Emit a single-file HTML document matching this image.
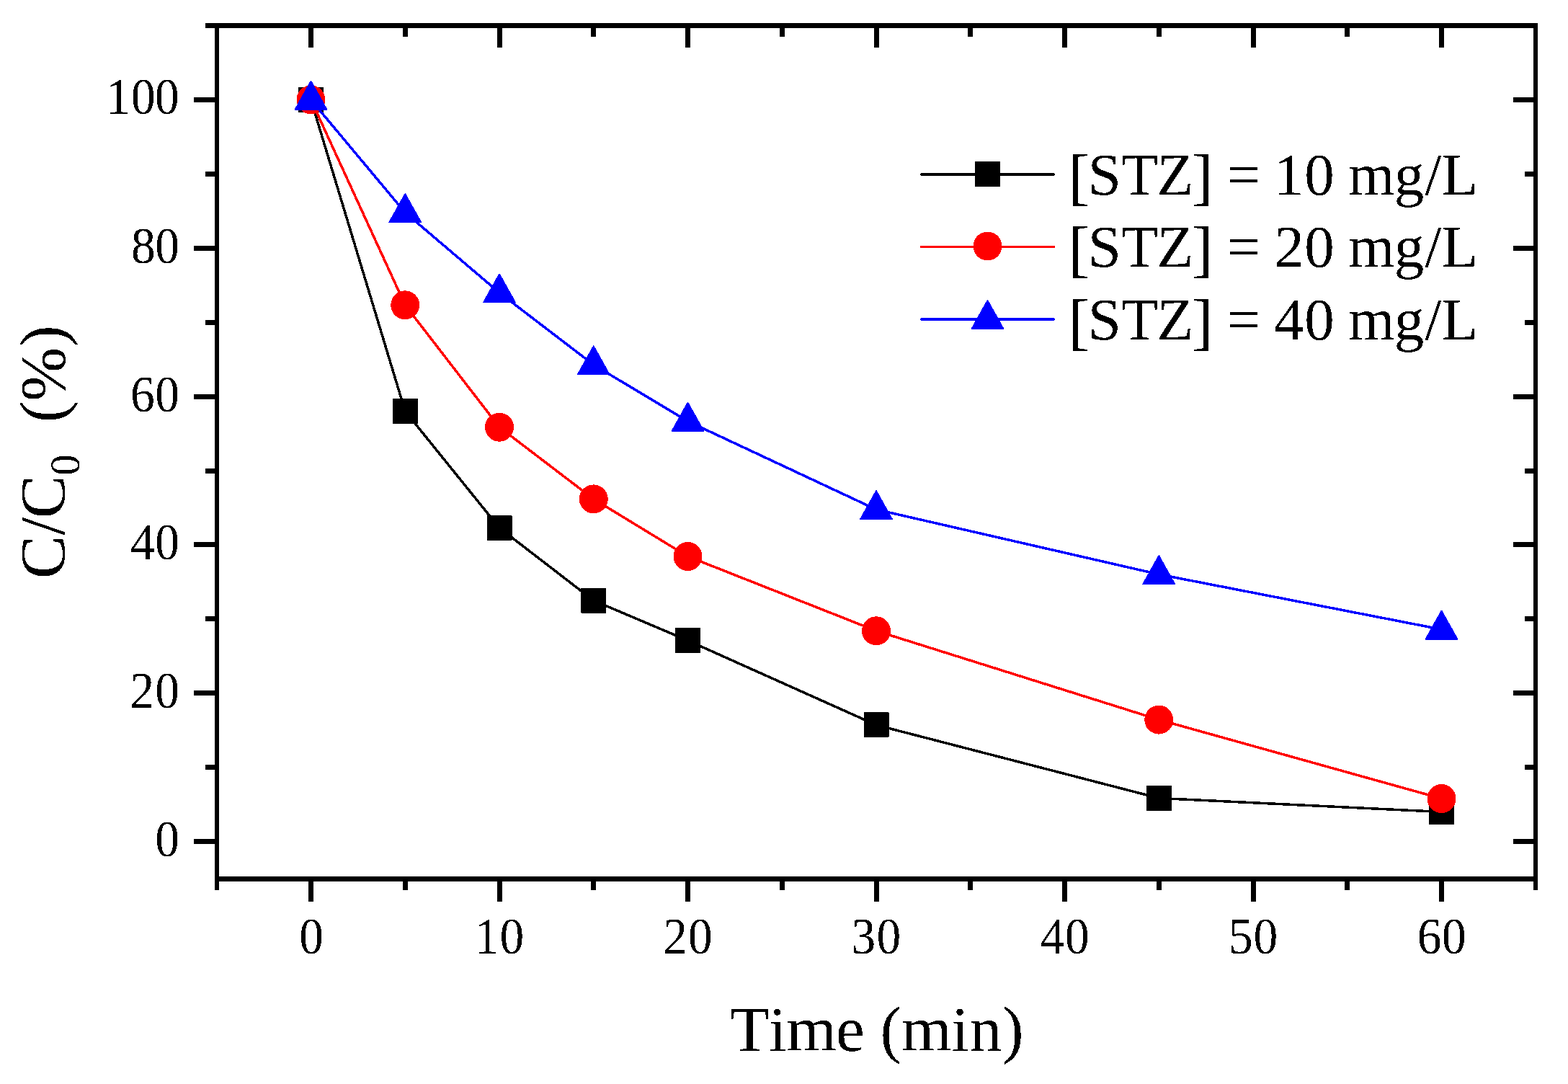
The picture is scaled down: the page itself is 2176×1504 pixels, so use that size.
<!DOCTYPE html>
<html><head><meta charset="utf-8"><title>C/C0 (%) vs Time (min)</title>
<style>html,body{margin:0;padding:0;background:#fff;overflow:hidden;}svg{display:block;}</style>
</head><body>
<svg width="2176" height="1504" viewBox="0 0 2176 1504"><defs><filter id="crisp" x="-5%" y="-5%" width="110%" height="110%" color-interpolation-filters="sRGB"><feComponentTransfer><feFuncA type="discrete" tableValues="0 1"/></feComponentTransfer></filter></defs><rect width="2176" height="1504" fill="#fff"/>
<g fill="#000" shape-rendering="crispEdges">
<rect x="298" y="32" width="6" height="1203"/>
<rect x="2128" y="32" width="6" height="1203"/>
<rect x="285" y="32" width="1849" height="7"/>
<rect x="298" y="1216" width="1836" height="7"/>
<rect x="428" y="1223" width="7" height="28"/>
<rect x="428" y="39" width="7" height="27"/>
<rect x="689.5" y="1223" width="7" height="28"/>
<rect x="689.5" y="39" width="7" height="27"/>
<rect x="951" y="1223" width="7" height="28"/>
<rect x="951" y="39" width="7" height="27"/>
<rect x="1212.5" y="1223" width="7" height="28"/>
<rect x="1212.5" y="39" width="7" height="27"/>
<rect x="1474" y="1223" width="7" height="28"/>
<rect x="1474" y="39" width="7" height="27"/>
<rect x="1735.5" y="1223" width="7" height="28"/>
<rect x="1735.5" y="39" width="7" height="27"/>
<rect x="1997" y="1223" width="7" height="28"/>
<rect x="1997" y="39" width="7" height="27"/>
<rect x="558.75" y="1223" width="7" height="12"/>
<rect x="558.75" y="39" width="7" height="12"/>
<rect x="820.25" y="1223" width="7" height="12"/>
<rect x="820.25" y="39" width="7" height="12"/>
<rect x="1081.75" y="1223" width="7" height="12"/>
<rect x="1081.75" y="39" width="7" height="12"/>
<rect x="1343.25" y="1223" width="7" height="12"/>
<rect x="1343.25" y="39" width="7" height="12"/>
<rect x="1604.75" y="1223" width="7" height="12"/>
<rect x="1604.75" y="39" width="7" height="12"/>
<rect x="1866.25" y="1223" width="7" height="12"/>
<rect x="1866.25" y="39" width="7" height="12"/>
<rect x="269" y="1164" width="29" height="7"/>
<rect x="2100" y="1164" width="28" height="7"/>
<rect x="269" y="958.2" width="29" height="7"/>
<rect x="2100" y="958.2" width="28" height="7"/>
<rect x="269" y="752.4" width="29" height="7"/>
<rect x="2100" y="752.4" width="28" height="7"/>
<rect x="269" y="546.6" width="29" height="7"/>
<rect x="2100" y="546.6" width="28" height="7"/>
<rect x="269" y="340.8" width="29" height="7"/>
<rect x="2100" y="340.8" width="28" height="7"/>
<rect x="269" y="135" width="29" height="7"/>
<rect x="2100" y="135" width="28" height="7"/>
<rect x="285" y="1061.1" width="13" height="7"/>
<rect x="2116" y="1061.1" width="12" height="7"/>
<rect x="285" y="855.3" width="13" height="7"/>
<rect x="2116" y="855.3" width="12" height="7"/>
<rect x="285" y="649.5" width="13" height="7"/>
<rect x="2116" y="649.5" width="12" height="7"/>
<rect x="285" y="443.7" width="13" height="7"/>
<rect x="2116" y="443.7" width="12" height="7"/>
<rect x="285" y="237.9" width="13" height="7"/>
<rect x="2116" y="237.9" width="12" height="7"/>
</g>
<g font-family="Liberation Serif, 'Times New Roman', serif" font-size="71" fill="#000" filter="url(#crisp)"><g transform="scale(0.95 1)">
<text x="437.09" y="1322.6">0</text>
<text x="693.34 729.99" y="1322.6">10</text>
<text x="968.81 1005.25" y="1322.6">20</text>
<text x="1243.62 1280.51" y="1322.6">30</text>
<text x="1519.85 1555.78" y="1322.6">40</text>
<text x="1794.68 1831.04" y="1322.6">50</text>
<text x="2070.31 2106.3" y="1322.6">60</text>
<text x="226.46" y="1188.1">0</text>
<text x="190.02 226.46" y="982.3">20</text>
<text x="190.53 226.46" y="776.5">40</text>
<text x="190.47 226.46" y="570.7">60</text>
<text x="191.67 226.46" y="364.9">80</text>
<text x="154.95 191.62 226.36" y="158.4">100</text>
</g></g>
<g shape-rendering="crispEdges">
<polyline points="431.5,138.4 562.25,570.5 693,732.4 823.75,833.2 954.5,888.7 1216,1005.9 1608.25,1107.4 2000.5,1126.5" fill="none" stroke="#000" stroke-width="3.5" stroke-linejoin="round" stroke-linecap="round"/>
<rect x="415" y="121.9" width="33" height="33" fill="#000" stroke="#000" stroke-width="2" stroke-linejoin="round"/>
<rect x="545.75" y="554" width="33" height="33" fill="#000" stroke="#000" stroke-width="2" stroke-linejoin="round"/>
<rect x="676.5" y="715.9" width="33" height="33" fill="#000" stroke="#000" stroke-width="2" stroke-linejoin="round"/>
<rect x="807.25" y="816.7" width="33" height="33" fill="#000" stroke="#000" stroke-width="2" stroke-linejoin="round"/>
<rect x="938" y="872.2" width="33" height="33" fill="#000" stroke="#000" stroke-width="2" stroke-linejoin="round"/>
<rect x="1199.5" y="989.4" width="33" height="33" fill="#000" stroke="#000" stroke-width="2" stroke-linejoin="round"/>
<rect x="1591.75" y="1090.9" width="33" height="33" fill="#000" stroke="#000" stroke-width="2" stroke-linejoin="round"/>
<rect x="1984" y="1110" width="33" height="33" fill="#000" stroke="#000" stroke-width="2" stroke-linejoin="round"/>
<polyline points="431.5,138.4 562.25,423.3 693,592.7 823.75,692.4 954.5,772 1216,875.3 1608.25,998.6 2000.5,1108" fill="none" stroke="#f00" stroke-width="3.5" stroke-linejoin="round" stroke-linecap="round"/>
<circle cx="431.5" cy="138.4" r="20" fill="#f00"/>
<circle cx="562.25" cy="423.3" r="20" fill="#f00"/>
<circle cx="693" cy="592.7" r="20" fill="#f00"/>
<circle cx="823.75" cy="692.4" r="20" fill="#f00"/>
<circle cx="954.5" cy="772" r="20" fill="#f00"/>
<circle cx="1216" cy="875.3" r="20" fill="#f00"/>
<circle cx="1608.25" cy="998.6" r="20" fill="#f00"/>
<circle cx="2000.5" cy="1108" r="20" fill="#f00"/>
<polyline points="431.5,138.5 562.25,294.9 693,406.1 823.75,506.1 954.5,584.5 1216,706.9 1608.25,796.9 2000.5,873.3" fill="none" stroke="#00f" stroke-width="3.5" stroke-linejoin="round" stroke-linecap="round"/>
<polygon points="431.5,112.83 409.7,151.83 453.3,151.83" fill="#00f" stroke="#00f" stroke-width="2" stroke-linejoin="round"/>
<polygon points="562.25,269.23 540.45,308.23 584.05,308.23" fill="#00f" stroke="#00f" stroke-width="2" stroke-linejoin="round"/>
<polygon points="693,380.43 671.2,419.43 714.8,419.43" fill="#00f" stroke="#00f" stroke-width="2" stroke-linejoin="round"/>
<polygon points="823.75,480.43 801.95,519.43 845.55,519.43" fill="#00f" stroke="#00f" stroke-width="2" stroke-linejoin="round"/>
<polygon points="954.5,558.83 932.7,597.83 976.3,597.83" fill="#00f" stroke="#00f" stroke-width="2" stroke-linejoin="round"/>
<polygon points="1216,681.23 1194.2,720.23 1237.8,720.23" fill="#00f" stroke="#00f" stroke-width="2" stroke-linejoin="round"/>
<polygon points="1608.25,771.23 1586.45,810.23 1630.05,810.23" fill="#00f" stroke="#00f" stroke-width="2" stroke-linejoin="round"/>
<polygon points="2000.5,847.63 1978.7,886.63 2022.3,886.63" fill="#00f" stroke="#00f" stroke-width="2" stroke-linejoin="round"/>
</g>
<line x1="1278.75" y1="242" x2="1462.25" y2="242" stroke="#000" stroke-width="3.5" stroke-linecap="round" shape-rendering="crispEdges"/>
<g shape-rendering="crispEdges">
<rect x="1354" y="225" width="33" height="33" fill="#000" stroke="#000" stroke-width="2" stroke-linejoin="round"/>
</g>
<text y="270" font-family="Liberation Serif, 'Times New Roman', serif" font-size="83" filter="url(#crisp)"><tspan x="1482.79" y="274.4" font-size="87.1">[</tspan><tspan x="1509.82 1556.24 1605.43" y="270">STZ</tspan><tspan x="1654.11" y="274.4" font-size="87.1">]</tspan><tspan x="1682.35 1702.4 1749.21 1767.99 1810.25 1851.75 1870.9 1934.71 1977.17 2000.4" y="270"> = 10 mg/L</tspan></text>
<line x1="1278.75" y1="342.5" x2="1462.25" y2="342.5" stroke="#f00" stroke-width="3.5" stroke-linecap="round" shape-rendering="crispEdges"/>
<g shape-rendering="crispEdges">
<circle cx="1370.5" cy="341.5" r="20" fill="#f00"/>
</g>
<text y="370" font-family="Liberation Serif, 'Times New Roman', serif" font-size="83" filter="url(#crisp)"><tspan x="1482.79" y="374.4" font-size="87.1">[</tspan><tspan x="1509.82 1556.24 1605.43" y="370">STZ</tspan><tspan x="1654.11" y="374.4" font-size="87.1">]</tspan><tspan x="1682.35 1702.4 1749.21 1768.52 1810.25 1851.75 1870.9 1934.71 1977.17 2000.4" y="370"> = 20 mg/L</tspan></text>
<line x1="1278.75" y1="443" x2="1462.25" y2="443" stroke="#00f" stroke-width="3.5" stroke-linecap="round" shape-rendering="crispEdges"/>
<g shape-rendering="crispEdges">
<polygon points="1370.5,417.03 1348.7,456.03 1392.3,456.03" fill="#00f" stroke="#00f" stroke-width="2" stroke-linejoin="round"/>
</g>
<text y="470.8" font-family="Liberation Serif, 'Times New Roman', serif" font-size="83" filter="url(#crisp)"><tspan x="1482.79" y="475.2" font-size="87.1">[</tspan><tspan x="1509.82 1556.24 1605.43" y="470.8">STZ</tspan><tspan x="1654.11" y="475.2" font-size="87.1">]</tspan><tspan x="1682.35 1702.4 1749.21 1768.04 1810.25 1851.75 1870.9 1934.71 1977.17 2000.4" y="470.8"> = 40 mg/L</tspan></text>
<text x="1013.02 1066.87 1091.31 1159.92 1199.69 1221.56 1251.06 1320.17 1345.6 1390.76" y="1458.3" font-family="Liberation Serif, 'Times New Roman', serif" font-size="89.6" filter="url(#crisp)">Time (min)</text>
<g filter="url(#crisp)"><text transform="rotate(-90)" font-family="Liberation Serif, 'Times New Roman', serif" font-size="89.6"><tspan x="-803.05 -742.65 -719.25" y="89.2">C/C</tspan><tspan x="-659.73" y="110.1" font-size="58.5">0</tspan><tspan x="-586.29 -556.42 -481.24" y="89.2">(%)</tspan></text></g>
</svg>
</body></html>
